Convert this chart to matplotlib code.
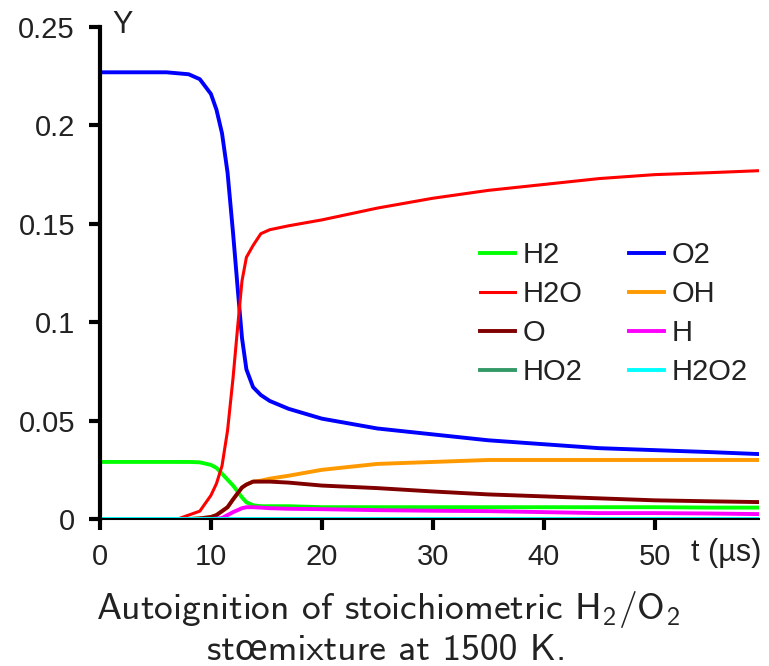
import matplotlib
matplotlib.use("Agg")
import matplotlib.pyplot as plt

# time axis (microseconds)
t = [0, 6, 7, 8, 9, 10, 10.5, 11, 11.5, 12, 12.4, 12.8, 13.2, 13.8, 14.5, 15.3,
     17, 20, 25, 30, 35, 40, 45, 50, 55, 59.4]

# mass fractions
H2 = [0.029, 0.029, 0.029, 0.029, 0.0288, 0.0275, 0.026, 0.023, 0.020, 0.017, 0.014,
      0.011, 0.0085, 0.007, 0.0065, 0.0065, 0.0065, 0.006, 0.006, 0.006, 0.006, 0.006,
      0.006, 0.006, 0.0058, 0.0058]
O2 = [0.227, 0.227, 0.2265, 0.226, 0.2235, 0.216, 0.208, 0.196, 0.176, 0.145, 0.118,
      0.092, 0.076, 0.067, 0.063, 0.060, 0.056, 0.051, 0.046, 0.043, 0.040, 0.038,
      0.036, 0.035, 0.034, 0.033]
H2O = [0, 0, 0, 0.002, 0.004, 0.012, 0.018, 0.027, 0.045, 0.072, 0.097, 0.121, 0.133,
       0.139, 0.145, 0.147, 0.149, 0.152, 0.158, 0.163, 0.167, 0.170, 0.173, 0.175,
       0.176, 0.177]
OH = [0, 0, 0, 0, 0.0003, 0.001, 0.002, 0.004, 0.006, 0.010, 0.013, 0.016, 0.0175,
      0.019, 0.0195, 0.0205, 0.022, 0.025, 0.028, 0.029, 0.030, 0.030, 0.030, 0.030,
      0.030, 0.030]
O = [0, 0, 0, 0, 0.0003, 0.001, 0.002, 0.004, 0.006, 0.010, 0.013, 0.016, 0.0175,
     0.019, 0.019, 0.019, 0.0185, 0.017, 0.0157, 0.014, 0.0125, 0.0115, 0.0105,
     0.0095, 0.009, 0.0086]
H = [0, 0, 0, 0, 0, 0, 0.0002, 0.0005, 0.002, 0.0035, 0.0045, 0.0055, 0.006, 0.006,
     0.0058, 0.0055, 0.0052, 0.005, 0.0045, 0.0042, 0.004, 0.0035, 0.003, 0.003,
     0.0028, 0.0025]
HO2 = [0.0002] * len(t)
H2O2 = [0.0001] * len(t)

species = ["H2", "O2", "H2O", "OH", "O", "H", "HO2", "H2O2"]
colors = ["#00ff00", "#0000ff", "#ff0000", "#ff9900", "#800000", "#ff00ff",
          "#339966", "#00ffff"]
widths = [2.8, 2.8, 2.2, 2.8, 2.8, 2.8, 2.8, 2.8]
xticks = [0, 10, 20, 30, 40, 50]
yticks = [0, 0.05, 0.1, 0.15, 0.2, 0.25]
ytick_labels = ["0", "0.05", "0.1", "0.15", "0.2", "0.25"]

plt.rcParams["font.family"] = ["Liberation Sans", "DejaVu Sans"]
plt.rcParams["mathtext.default"] = "regular"

fig = plt.figure(figsize=(7.69, 6.66), dpi=100)
ax = fig.add_axes([0.130, 0.2207, 0.857, 0.7387])

lines = {}
for name, y, c, w in zip(species, [H2, O2, H2O, OH, O, H, HO2, H2O2], colors, widths):
    lines[name], = ax.plot(t, y, color=c, lw=w, label=name)

ax.set_xlim(0, 59.4)
ax.set_ylim(0, 0.25)
ax.set_xticks(xticks)
ax.set_yticks(yticks)
ax.set_yticklabels(ytick_labels)
ax.tick_params(axis="both", labelsize=21, direction="out", length=8, width=3, color="black",
               labelcolor="#222222")
ax.tick_params(axis="x", pad=9)
ax.tick_params(axis="y", pad=10)
for s in ["top", "right"]:
    ax.spines[s].set_visible(False)
ax.spines["left"].set_linewidth(3)
ax.spines["bottom"].set_linewidth(1.5)

ax.text(0.018, 0.988, "Y", transform=ax.transAxes, fontsize=22, ha="left", va="baseline",
        color="#222222")
ax.text(59.6, -0.0095, "t (µs)", fontsize=22, ha="right", va="top", color="#222222")

# legend: row-wise order
order = ["H2", "H2O", "O", "HO2", "O2", "OH", "H", "H2O2"]
leg = ax.legend([lines[n] for n in order], order, ncol=2, loc="upper left",
                bbox_to_anchor=(0.537, 0.618), frameon=False, fontsize=21,
                handlelength=1.2, handletextpad=0.25, columnspacing=1.6, labelspacing=0.38)
for txt in leg.get_texts():
    txt.set_color("#222222")

# caption in computer modern sans (oe falls back to Lato)
cap_font = ["cmss10", "Lato", "DejaVu Sans"]
fig.text(0.505, 0.085, "Autoignition of stoichiometric H$_2$/O$_2$",
         family=cap_font, fontsize=27, ha="center", va="center", color="#222222")
fig.text(0.503, 0.024, "stœmixture at 1500 K.", family=cap_font, fontsize=27,
         ha="center", va="center", color="#222222")

fig.savefig("out.png", dpi=100)
